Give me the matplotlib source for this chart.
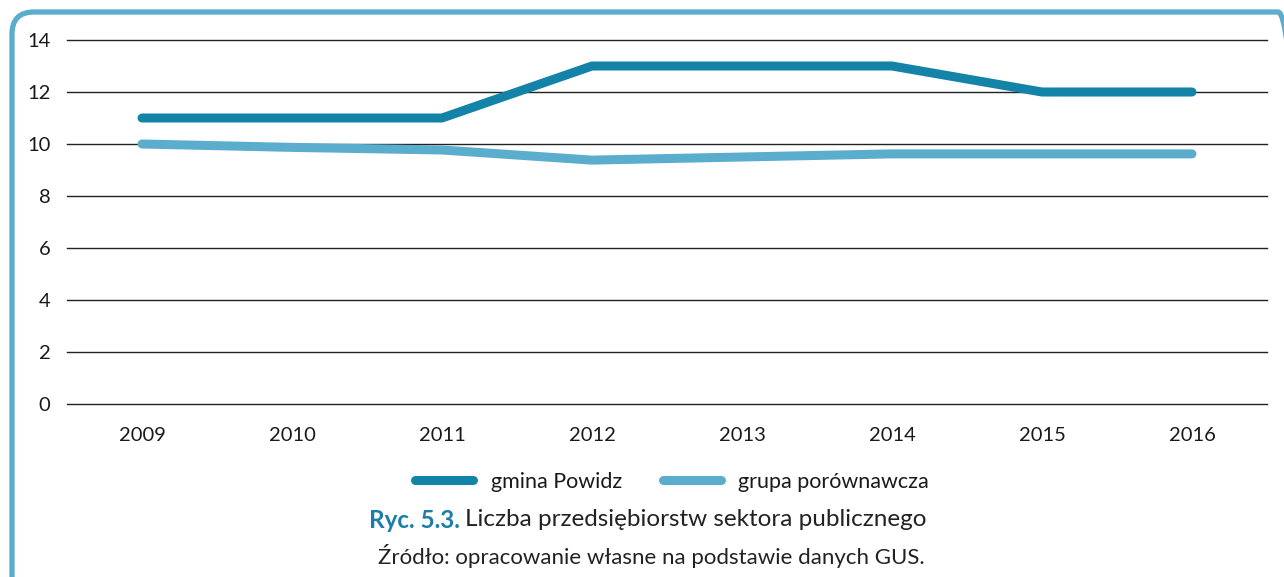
import matplotlib
matplotlib.use("Agg")
import matplotlib.pyplot as plt
from matplotlib.patches import FancyBboxPatch
from matplotlib.transforms import IdentityTransform

plt.rcParams['font.family'] = ['Lato', 'DejaVu Sans']

years = ['2009', '2010', '2011', '2012', '2013', '2014', '2015', '2016']
gmina = [11, 11, 11, 13, 13, 13, 12, 12]
grupa = [10.0, 9.87, 9.77, 9.38, 9.5, 9.62, 9.62, 9.62]
labels = ['gmina Powidz', 'grupa porównawcza']

dark = '#1383a8'
light = '#5badcd'
W, H = 1284, 577

fig = plt.figure(figsize=(W / 100, H / 100), dpi=100)
ax = fig.add_axes([67 / W, 1 - 404 / H, 1200 / W, 364 / H])

x = range(len(years))
ax.plot(x, gmina, color=dark, lw=6.5, solid_capstyle='round', solid_joinstyle='round', label=labels[0], zorder=3)
ax.plot(x, grupa, color=light, lw=6.5, solid_capstyle='round', solid_joinstyle='round', label=labels[1], zorder=3)

ax.set_xlim(-0.5, len(years) - 0.5)
ax.set_ylim(0, 14)
ax.set_yticks(range(0, 15, 2))
ax.set_xticks(list(x))
ax.set_xticklabels(years)
ax.yaxis.grid(True, color='#222222', lw=1)
for gl in ax.get_ygridlines():
    gl.set_clip_on(False)
ax.set_axisbelow(True)
for s in ax.spines.values():
    s.set_visible(False)
ax.tick_params(length=0, labelsize=14.5, colors='#1a1a1a')
ax.tick_params(axis='y', pad=12)
ax.tick_params(axis='x', pad=16.5)

fig.legend(loc='center', bbox_to_anchor=(672 / W, 1 - 482 / H), ncol=2, frameon=False,
           fontsize=15.5, handlelength=2.7, handletextpad=0.8, columnspacing=1.9,
           labelcolor='#1a1a1a')

# caption
t1 = fig.text(370 / W, 1 - 520 / H, 'Ryc. 5.3.', fontsize=17.5, fontweight='bold',
              color='#1a7ea8', va='center', ha='left')
t2 = ax.annotate('Liczba przedsiębiorstw sektora publicznego', xy=(1, 0.5), xycoords=t1,
                 xytext=(4, 0), textcoords='offset points', va='center', ha='left',
                 fontsize=17.5, color='#222222')
fig.canvas.draw()
r = fig.canvas.get_renderer()
w1 = t1.get_window_extent(r).width
w2 = t2.get_window_extent(r).width
total = w1 + 4 * 100 / 72 + w2
t1.set_x((648 - total / 2) / W)

fig.text(651 / W, 1 - 556 / H, 'Źródło: opracowanie własne na podstawie danych GUS.',
         fontsize=16, color='#222222', ha='center', va='center')

# rounded frame, in pixels
frame = FancyBboxPatch((12, -30), 1300 - 12, H - 12 + 30,
                       boxstyle='round,pad=0,rounding_size=22', transform=IdentityTransform(),
                       fill=False, ec=light, lw=3.8)
fig.add_artist(frame)

fig.savefig('out.png', dpi=100)
